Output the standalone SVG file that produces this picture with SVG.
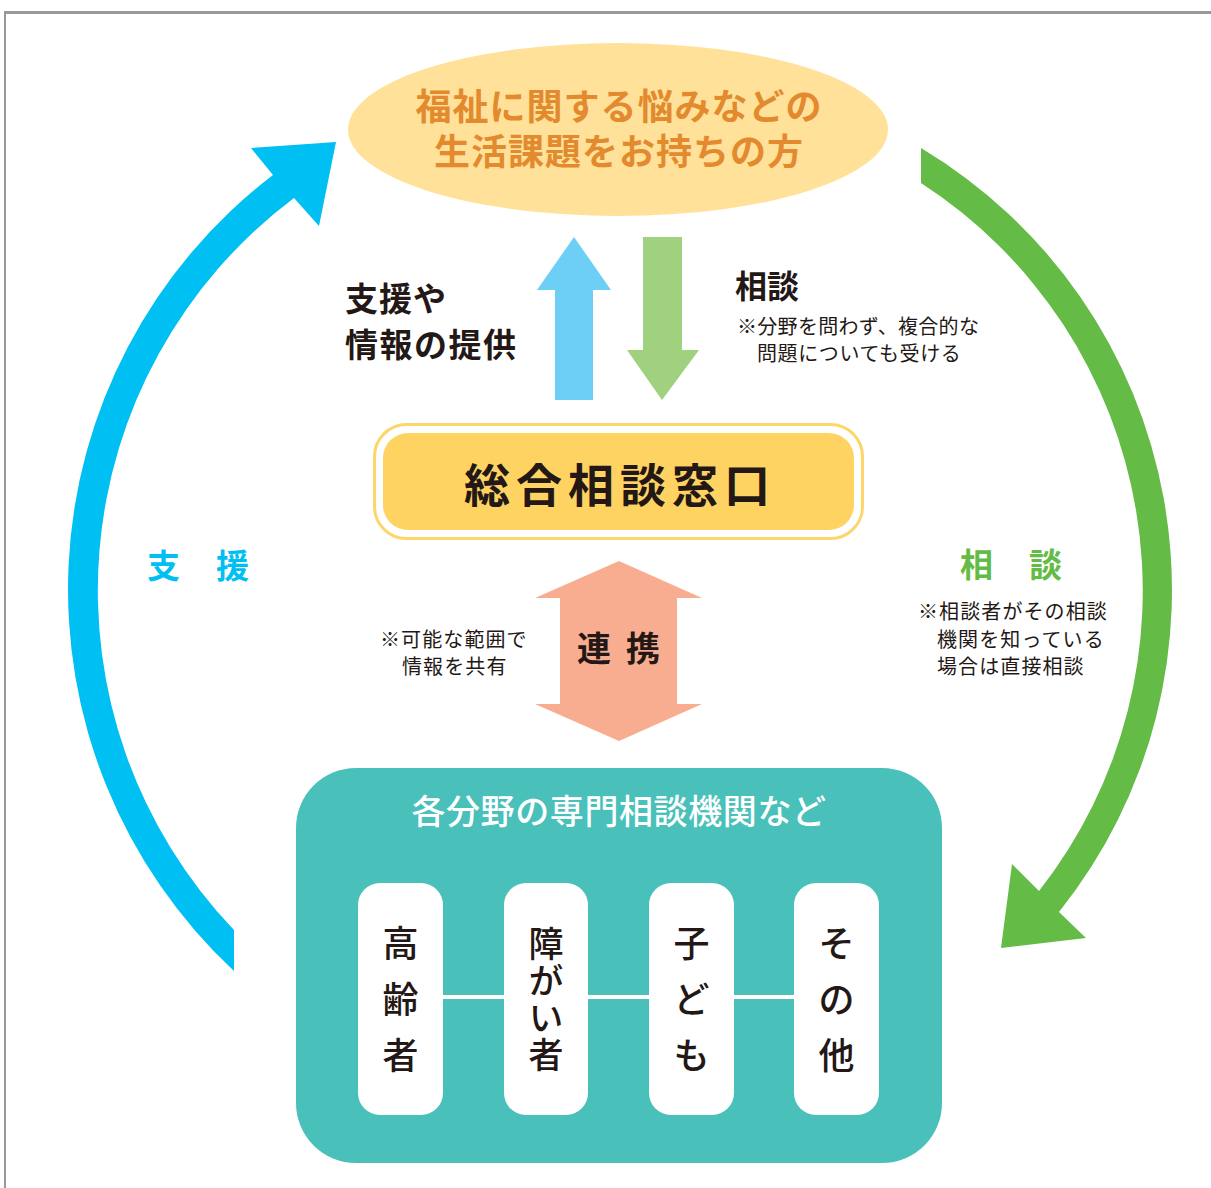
<svg xmlns="http://www.w3.org/2000/svg" width="1211" height="1188" viewBox="0 0 1211 1188">
<style>
text{font-family:"Noto Sans CJK JP","Noto Sans",sans-serif}
.dark{fill:#231815}
.b{font-weight:700}
.note{font-size:20px;fill:#231815;font-weight:400;letter-spacing:1.1px}
.cell{font-size:36px;fill:#231815;font-weight:500;text-anchor:middle}
.vert{font-size:35px;fill:#231815;font-weight:500;writing-mode:vertical-rl;text-orientation:upright}
</style>
<rect width="1211" height="1188" fill="#ffffff"/>
<g id="frame">
<line x1="5" y1="12.5" x2="1211" y2="12.5" stroke="#999999" stroke-width="3"/>
<line x1="5" y1="11" x2="5" y2="1188" stroke="#999999" stroke-width="2"/>
</g>
<g id="connectors">
<path id="arc-support" d="M 234 971 A 521.5 521.5 0 0 1 273 175 L 251 148 L 336 142 L 319 226 L 294 198 A 491 491 0 0 0 234 930 Z" fill="#00BFF3"/>
<path id="arc-consult" d="M 921 148 A 515 515 0 0 1 1059 912 L 1086 938 L 1001 948 L 1012 864 L 1039 891 A 486 486 0 0 0 921 183 Z" fill="#64BB46"/>
<path id="arrow-up" d="M 555 400 V 290 H 537 L 574 237 L 611 290 H 593 V 400 Z" fill="#6ECFF6"/>
<path id="arrow-down" d="M 643 237 V 350 H 627 L 662 400 L 699 350 H 682 V 237 Z" fill="#9FD17F"/>
<path id="arrow-both" d="M 619 561 L 702 598 H 677 V 704 H 702 L 619 741 L 535 704 H 560 V 598 H 535 Z" fill="#F8AC90"/>
</g>
<g id="person">
<ellipse cx="618" cy="129.5" rx="270" ry="86.5" fill="#FFE199"/>
<text font-size="36" font-weight="700" fill="#E38A2E" text-anchor="middle" letter-spacing="1"><tspan x="619" y="120">福祉に関する悩みなどの</tspan><tspan x="619" y="165">生活課題をお持ちの方</tspan></text>
</g>
<g id="labels">
<text x="345" y="311" font-size="33" class="dark b" letter-spacing="1">支援や</text>
<text x="345" y="357" font-size="33" class="dark b" letter-spacing="1.5">情報の提供</text>
<text x="735" y="298" font-size="32" class="dark b">相談</text>
<text x="737" y="334" class="note" style="letter-spacing:0.3px">※分野を問わず、複合的な</text>
<text x="757" y="361" class="note" style="letter-spacing:0.6px">問題についても受ける</text>
<text x="147" y="578" font-size="33" font-weight="700" fill="#00BFF3">支</text>
<text x="216" y="578" font-size="33" font-weight="700" fill="#00BFF3">援</text>
<text x="960" y="577" font-size="33" font-weight="700" fill="#64BB46">相</text>
<text x="1029" y="577" font-size="33" font-weight="700" fill="#64BB46">談</text>
<text x="918" y="619" class="note">※相談者がその相談</text>
<text x="937" y="647" class="note">機関を知っている</text>
<text x="937" y="674" class="note">場合は直接相談</text>
<text x="380" y="647" class="note">※可能な範囲で</text>
<text x="402" y="674" class="note">情報を共有</text>
<text x="577" y="661" font-size="34" class="dark b">連</text>
<text x="626" y="661" font-size="34" class="dark b">携</text>
</g>
<g id="window">
<rect x="374.5" y="424.5" width="488" height="114" rx="32" fill="#ffffff" stroke="#FDD66B" stroke-width="3"/>
<rect x="383" y="433" width="471" height="97" rx="25" fill="#FED362"/>
<text x="620" y="502" font-size="46" font-weight="700" class="dark" text-anchor="middle" letter-spacing="6">総合相談窓口</text>
</g>
<g id="agencies">
<rect x="296" y="768" width="646" height="395" rx="60" fill="#4AC0BB"/>
<text x="619" y="824" font-size="34" font-weight="500" fill="#ffffff" text-anchor="middle" letter-spacing="0.6">各分野の専門相談機関など</text>
<line x1="440" y1="997" x2="800" y2="997" stroke="#ffffff" stroke-width="4"/>
</g>
<g id="elderly">
<rect x="358" y="883" width="85" height="232" rx="22" fill="#ffffff"/>
<text class="cell" x="400.5" y="957">高</text>
<text class="cell" x="400.5" y="1013">齢</text>
<text class="cell" x="400.5" y="1069">者</text>
</g>
<g id="disability">
<rect x="504" y="883" width="84" height="232" rx="22" fill="#ffffff"/>
<text class="vert" x="546" y="926" letter-spacing="2">障がい者</text>
</g>
<g id="children">
<rect x="649" y="883" width="85" height="232" rx="22" fill="#ffffff"/>
<text class="cell" x="691.5" y="957">子</text>
<text class="cell" x="691.5" y="1013">ど</text>
<text class="cell" x="691.5" y="1069">も</text>
</g>
<g id="others">
<rect x="794" y="883" width="85" height="232" rx="22" fill="#ffffff"/>
<text class="cell" x="836.5" y="957">そ</text>
<text class="cell" x="836.5" y="1013">の</text>
<text class="cell" x="836.5" y="1069">他</text>
</g>
</svg>
